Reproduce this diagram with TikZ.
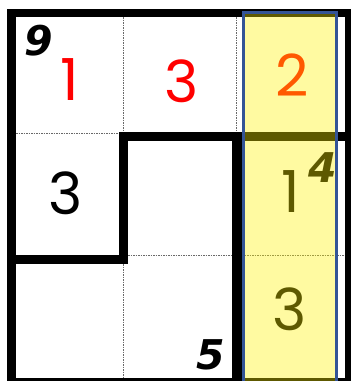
\documentclass[tikz,border=0pt]{standalone}
\usepackage{fontspec}
\newfontfamily\digitfont{Poppins}
\newfontfamily\cagefont{DejaVu Sans}
\definecolor{gridblue}{RGB}{52,84,150}
\definecolor{dotgray}{RGB}{105,105,105}
\begin{document}
\begin{tikzpicture}[x=1pt,y=-1pt,
  wall/.style={fill=black},
  thin grid/.style={draw=dotgray, line width=1pt, dash pattern=on 1.5pt off 1pt},
  big digit/.style={inner sep=0pt, font=\digitfont\fontsize{58}{58}\selectfont},
  cage sum/.style={inner sep=0pt, font=\cagefont\bfseries\itshape\fontsize{41}{41}\selectfont},
  highlight/.style={fill=yellow, fill opacity=0.37},
  highlight frame/.style={draw=gridblue, line width=2.6pt}]
\useasboundingbox (0,0) rectangle (351,381);
\clip (0,0) rectangle (351,381);
\fill[white] (0,0) rectangle (351,381);
% dotted cell lines
\draw[thin grid] (123.7,17) -- (123.7,132);
\draw[thin grid] (123.7,264) -- (123.7,378);
\draw[thin grid] (236.7,17) -- (236.7,132);
\draw[thin grid] (16,133) -- (119,133);
\draw[thin grid] (128,255.7) -- (232,255.7);
\draw[thin grid] (242,255.7) -- (345,255.7);
% thick walls
\fill[wall] (7,9) rectangle (351,17);
\fill[wall] (7,9) rectangle (16,381);
\fill[wall] (345,9) rectangle (351,381);
\fill[wall] (7,378) rectangle (351,381);
\fill[wall] (119,132) rectangle (351,141);
\fill[wall] (119,132) rectangle (128,264);
\fill[wall] (7,255) rectangle (128,264);
\fill[wall] (232,132) rectangle (242,381);
% digits
\node[big digit, text=red] (r1c1) at (69.5,79.5) {1};
\node[big digit, text=red] (r1c2) at (182,81) {3};
\node[big digit, text=red] (r1c3) at (292.5,75) {2};
\node[big digit] (r2c1) at (66,193) {3};
\node[big digit] (r2c3) at (290.5,191.5) {1};
\node[big digit] (r3c3) at (290,309.5) {3};
% cage sums
\node[cage sum] (sum9) at (38.5,41) {9};
\node[cage sum] (sum4) at (323,167.5) {4};
\node[cage sum] (sum5) at (210.5,354.5) {5};
% highlighted column
\fill[highlight] (242.3,11) rectangle (337.7,381);
\draw[highlight frame] (243.6,12.3) rectangle (336.4,390);
\end{tikzpicture}
\end{document}
